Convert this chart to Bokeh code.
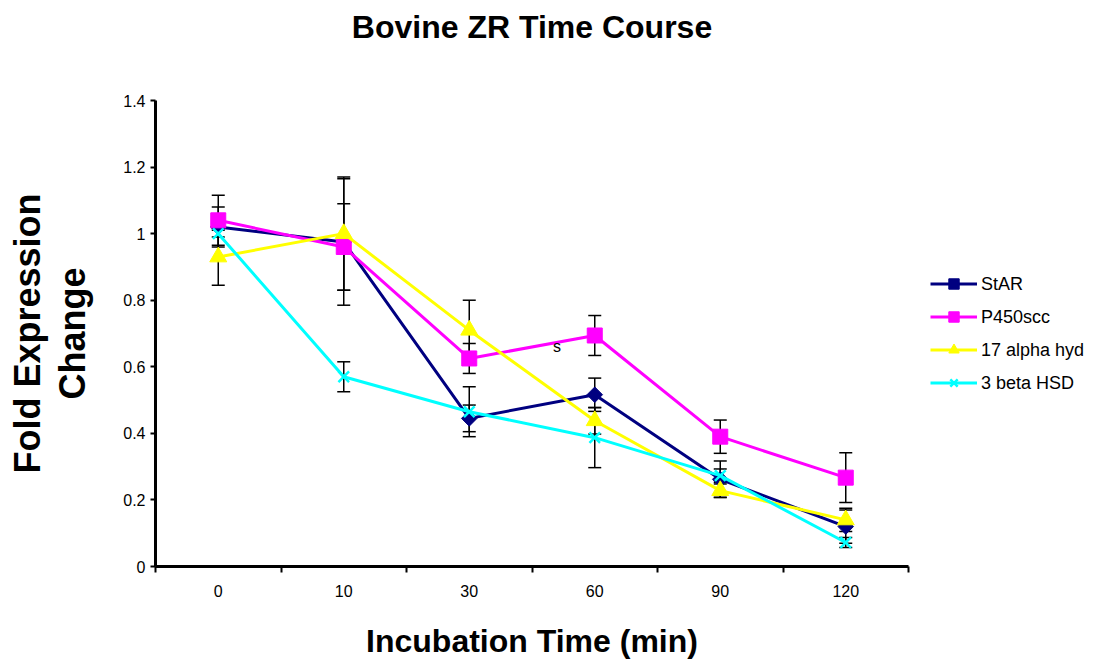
import math
from bokeh.plotting import figure
from bokeh.models import (Range1d, FixedTicker, NumeralTickFormatter, Whisker, TeeHead,
                          ColumnDataSource, Label, Legend, LegendItem, Title)
from bokeh.embed import file_html
from bokeh.resources import INLINE

# ---- data ----
categories = ["0", "10", "30", "60", "90", "120"]
series_names = ["StAR", "P450scc", "17 alpha hyd", "3 beta HSD"]
star = [1.02, 0.975, 0.445, 0.516, 0.262, 0.12]
star_err = [0.06, 0.19, 0.04, 0.05, 0.055, 0.05]
p450 = [1.04, 0.96, 0.625, 0.694, 0.39, 0.267]
p450_err = [0.075, 0.13, 0.045, 0.06, 0.05, 0.075]
alpha17 = [0.93, 1.0, 0.71, 0.438, 0.228, 0.14]
alpha17_err = [0.085, 0.17, 0.09, 0.04, 0.02, 0.035]
beta3 = [1.0, 0.57, 0.465, 0.387, 0.273, 0.072]
beta3_err = [0.01, 0.045, 0.075, 0.09, 0.02, 0.015]
y_ticks = [0, 0.2, 0.4, 0.6, 0.8, 1.0, 1.2, 1.4]
title_text = "Bovine ZR Time Course"
x_title = "Incubation Time (min)"
y_title = "Fold Expression\nChange"
stray_text = "s"

FONT = "Liberation Sans"
colors = ["#000080", "#FF00FF", "#FFFF00", "#00FFFF"]
markers = ["square", "square", "triangle", "x"]
angles = [math.pi / 4, 0, 0, 0]
sizes = [11, 15, 17, 15]

x = [i + 0.5 for i in range(len(categories))]

p = figure(frame_width=753, frame_height=466, output_backend="svg", toolbar_location=None,
           x_range=Range1d(0, len(categories)), y_range=Range1d(0, 1.4),
           min_border_left=155, min_border_right=200, min_border_top=100,
           min_border_bottom=94)
p.outline_line_color = None
p.grid.visible = False
p.background_fill_color = "white"
p.border_fill_color = "white"

# spacer between frame and title (closest to the frame)
p.add_layout(Title(text=" ", text_font_size="10px", standoff=38), "above")

p.title.text = title_text
p.title.align = "center"
p.title.offset = 14
p.title.standoff = 10
p.title.text_font = FONT
p.title.text_font_size = "32px"
p.title.text_font_style = "bold"
p.title.text_color = "black"

# axes
xa = p.xaxis[0]
xa.ticker = FixedTicker(ticks=x, minor_ticks=list(range(len(categories) + 1)))
xa.major_label_overrides = {xv: c for xv, c in zip(x, categories)}
xa.major_tick_out = 0
xa.major_tick_in = 0
xa.minor_tick_out = 6
xa.minor_tick_in = 0
xa.minor_tick_line_width = 2
xa.minor_tick_line_color = "black"
xa.axis_line_width = 3
xa.axis_line_color = "black"
xa.major_label_standoff = 12
xa.major_label_text_font = FONT
xa.major_label_text_font_size = "16px"
xa.major_label_text_color = "black"
xa.axis_label = x_title
xa.axis_label_standoff = 23
xa.axis_label_text_font = FONT
xa.axis_label_text_font_size = "32px"
xa.axis_label_text_font_style = "bold"
xa.axis_label_text_color = "black"

ya = p.yaxis[0]
ya.ticker = FixedTicker(ticks=y_ticks, minor_ticks=[])
ya.formatter = NumeralTickFormatter(format="0.[0]")
ya.major_tick_out = 5
ya.major_tick_in = 0
ya.major_tick_line_width = 2
ya.major_tick_line_color = "black"
ya.minor_tick_out = 0
ya.minor_tick_in = 0
ya.axis_line_width = 3
ya.axis_line_color = "black"
ya.major_label_standoff = 5
ya.major_label_text_font = FONT
ya.major_label_text_font_size = "16px"
ya.major_label_text_color = "black"
ya.axis_label = y_title
ya.axis_label_standoff = 27
ya.axis_label_text_font = FONT
ya.axis_label_text_font_size = "36px"
ya.axis_label_text_font_style = "bold"
ya.axis_label_text_line_height = 1.1
ya.axis_label_text_color = "black"

all_vals = [star, p450, alpha17, beta3]
all_errs = [star_err, p450_err, alpha17_err, beta3_err]

# error bars (under markers)
for vals, errs in zip(all_vals, all_errs):
    src = ColumnDataSource(dict(x=x,
                                upper=[v + e for v, e in zip(vals, errs)],
                                lower=[v - e for v, e in zip(vals, errs)]))
    w = Whisker(base="x", upper="upper", lower="lower", source=src,
                dimension="height", line_color="black", line_width=1.5,
                upper_head=TeeHead(size=13, line_width=1.5, line_color="black"),
                lower_head=TeeHead(size=13, line_width=1.5, line_color="black"),
                level="underlay")
    p.add_layout(w)

items = []
for name, vals, col, mk, ang, sz in zip(series_names, all_vals, colors, markers, angles, sizes):
    lr = p.line(x, vals, line_color=col, line_width=3)
    if mk == "x":
        sr = p.scatter(x, vals, marker=mk, size=sz, line_color=col, line_width=2.5)
    else:
        sr = p.scatter(x, vals, marker=mk, size=sz, angle=ang, fill_color=col,
                       line_color=col, line_width=1)
    items.append(LegendItem(label=name, renderers=[lr, sr]))

legend = Legend(items=items, location="left", padding=0, margin=22,
                border_line_color=None, background_fill_alpha=0,
                glyph_width=47, glyph_height=26, label_height=26, spacing=7,
                label_standoff=4, label_text_font=FONT, label_text_font_size="18px",
                label_text_color="black")
p.add_layout(legend, "right")

p.add_layout(Label(x=3.2, y=0.66, text=stray_text, text_align="center",
                   text_baseline="middle", text_font=FONT, text_font_size="16px",
                   text_color="black"))

open("out.html", "w").write(file_html(p, INLINE))
